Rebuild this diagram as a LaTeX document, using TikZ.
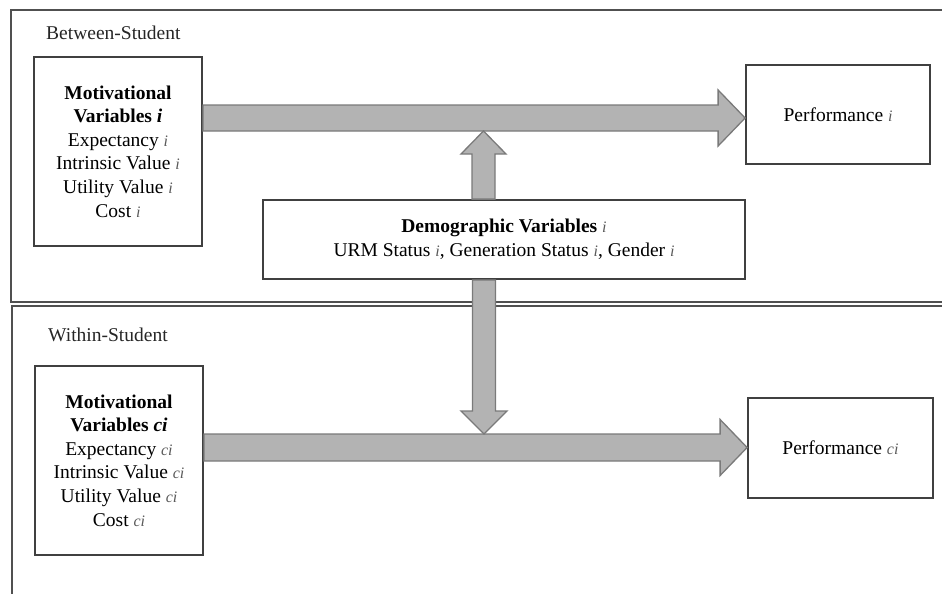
\documentclass[tikz,border=0pt]{standalone}
\usepackage{fontspec}
\setmainfont{Liberation Serif}
\usetikzlibrary{calc}
\definecolor{linegray}{HTML}{404040}
\definecolor{framegray}{HTML}{505050}
\definecolor{arrowfill}{HTML}{B3B3B3}
\definecolor{arrowline}{HTML}{7A7A7A}
\definecolor{subgray}{HTML}{5A5A5A}
\newcommand{\subidx}[1]{{\fontsize{16}{16}\selectfont\itshape\color{subgray}#1}}
\newcommand{\hfatarrow}[4]{% start, tip, shaft half width, head half width
  \draw[fat] ($(#1)+(0,-#3)$) -- ($(#2)+(-27,-#3)$) -- ($(#2)+(-27,-#4)$) -- (#2)
    -- ($(#2)+(-27,#4)$) -- ($(#2)+(-27,#3)$) -- ($(#1)+(0,#3)$) -- cycle;}
\newcommand{\vfatarrow}[5]{% start, tip, shaft half width, head half width, signed head length
  \draw[fat] ($(#1)+(-#3,0)$) -- ($(#2)+(-#3,#5)$) -- ($(#2)+(-#4,#5)$) -- (#2)
    -- ($(#2)+(#4,#5)$) -- ($(#2)+(#3,#5)$) -- ($(#1)+(#3,0)$) -- cycle;}
\begin{document}
\begin{tikzpicture}[x=1pt,y=-1pt,
  box/.style={draw=linegray, line width=1.8pt, fill=white, inner sep=0pt, align=center,
    font=\fontsize{19.5}{23.6}\selectfont},
  lab/.style={anchor=west, inner sep=0pt, font=\fontsize{19.5}{23.6}\selectfont, text=black!85},
  frame/.style={draw=framegray, line width=1.6pt},
  fat/.style={fill=arrowfill, draw=arrowline, line width=1.3pt, line join=miter}]
\useasboundingbox (0,0) rectangle (942,594);
\begin{scope}
  \clip (0,0) rectangle (942,594);
  \draw[frame] (11,10) rectangle (960,302);
  \draw[frame] (12,306) rectangle (960,620);
\end{scope}
\node[lab] (lab1) at (46,33) {Between-Student};
\node[lab] (lab2) at (48,335) {Within-Student};
\node[box, minimum width=168pt, minimum height=189pt] (mv1) at (118,151.5)
  {\textbf{Motivational}\\ \textbf{Variables \textit{i}}\\ Expectancy \subidx{i}\\
   Intrinsic Value \subidx{i}\\ Utility Value \subidx{i}\\ Cost \subidx{i}};
\node[box, minimum width=184pt, minimum height=99pt] (perf1) at (838,114.5)
  {Performance \subidx{i}};
\node[box, minimum width=482pt, minimum height=79pt] (demo) at (504,239.5)
  {\textbf{Demographic Variables} \subidx{i}\\
   URM Status \subidx{i}, Generation Status \subidx{i}, Gender \subidx{i}};
\node[box, minimum width=168pt, minimum height=189pt] (mv2) at (119,460.5)
  {\textbf{Motivational}\\ \textbf{Variables \textit{ci}}\\ Expectancy \subidx{ci}\\
   Intrinsic Value \subidx{ci}\\ Utility Value \subidx{ci}\\ Cost \subidx{ci}};
\node[box, minimum width=185pt, minimum height=100pt] (perf2) at (840.5,448)
  {Performance \subidx{ci}};
% arrow anchor coordinates
\coordinate (y1) at (0,118);
\coordinate (y2) at (0,447.5);
\coordinate (h1s) at (mv1.east |- y1);
\coordinate (h1t) at (perf1.west |- y1);
\coordinate (h2s) at (mv2.east |- y2);
\coordinate (h2t) at (perf2.west |- y2);
\coordinate (upS) at ($(demo.north)+(-20.5,0)$);
\coordinate (upT) at (483.5,131);
\coordinate (dnS) at ($(demo.south)+(-20,0)$);
\coordinate (dnT) at (484,434);
\hfatarrow{h1s}{h1t}{13}{28}
\hfatarrow{h2s}{h2t}{13.5}{28}
\vfatarrow{upS}{upT}{11.5}{22.5}{23}
\vfatarrow{dnS}{dnT}{11.5}{23}{-23}
\end{tikzpicture}
\end{document}
